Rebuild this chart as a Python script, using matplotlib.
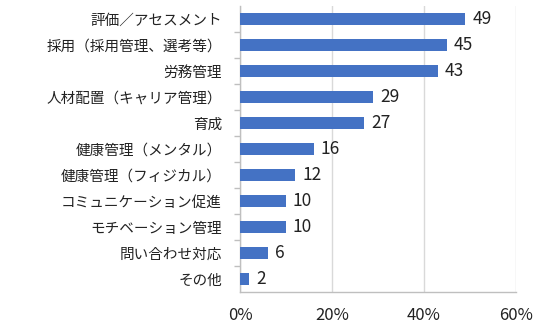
import matplotlib
matplotlib.use("Agg")
import matplotlib.pyplot as plt
from matplotlib.ticker import FixedLocator, PercentFormatter

plt.rcParams['font.family'] = ['Noto Sans CJK JP', 'DejaVu Sans']

categories = ["評価／アセスメント", "採用（採用管理、選考等）", "労務管理", "人材配置（キャリア管理）",
              "育成", "健康管理（メンタル）", "健康管理（フィジカル）", "コミュニケーション促進",
              "モチベーション管理", "問い合わせ対応", "その他"]
values = [49, 45, 43, 29, 27, 16, 12, 10, 10, 6, 2]
xticks = [0, 20, 40, 60]

fig = plt.figure(figsize=(5.45, 3.26), dpi=100)
ax = fig.add_axes([240/545, 34/326, 276/545, 286/326])

n = len(categories)
ypos = list(range(n))
ax.barh(ypos, values, height=0.49, color='#4472C4', zorder=3)
ax.set_ylim(n - 0.5, -0.5)
ax.set_xlim(0, 60)
ax.set_yticks(ypos)
ax.set_yticklabels(categories, fontsize=10.5, color='#222222')
ax.yaxis.set_minor_locator(FixedLocator([i + 0.5 for i in range(n - 1)]))
ax.tick_params(axis='y', which='major', length=0, pad=13)
ax.tick_params(axis='y', which='minor', length=4, color='#BFBFBF', width=1)

ax.set_xticks(xticks)
ax.xaxis.set_major_formatter(PercentFormatter(decimals=0))
ax.tick_params(axis='x', length=0, pad=10.5, labelsize=12, labelcolor='#222222')
ax.grid(axis='x', color='#D9D9D9', linewidth=1, zorder=0)

ax.spines['top'].set_visible(False)
ax.spines['right'].set_visible(False)
for s in ['left', 'bottom']:
    ax.spines[s].set_color('#BFBFBF')
    ax.spines[s].set_linewidth(1)

for y, v in zip(ypos, values):
    ax.text(v + 1.5, y, str(v), va='center', ha='left', fontsize=12.5, color='#222222')

fig.savefig('out.png', dpi=100)
